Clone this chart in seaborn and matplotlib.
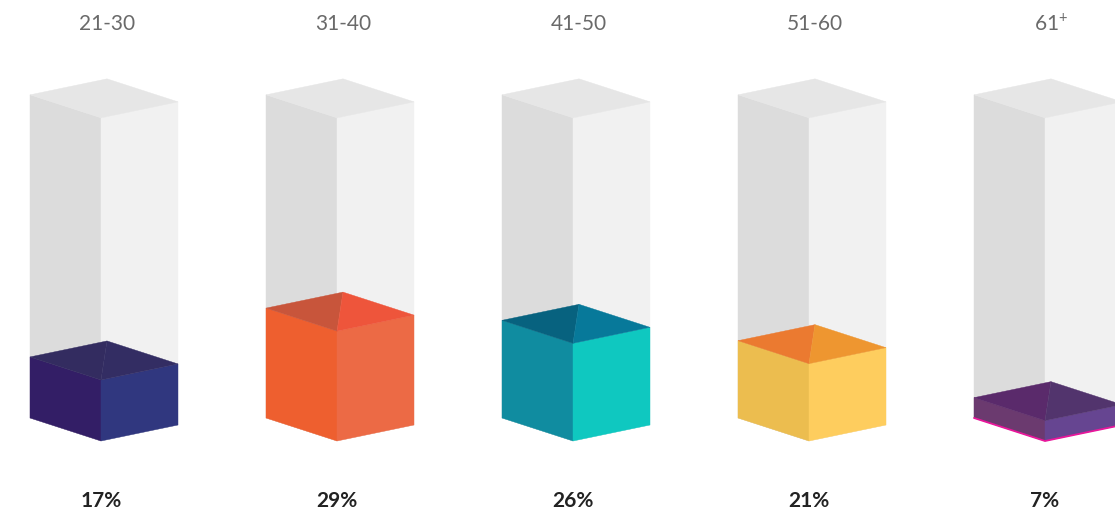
import numpy as np
import matplotlib
matplotlib.use("Agg")
import matplotlib.pyplot as plt
import seaborn as sns

# data
age_groups = ["21-30", "31-40", "41-50", "51-60", "61+"]
shares = [17, 29, 26, 21, 7]
base = 2         # value where the columns start
capacity = 81.4  # value at the top of the empty glass column

# face colours per bar: left face, right face, top-left triangle, top-right triangle
left_cols = ["#331e66", "#ee5f2f", "#108ca0", "#ecbd4f", "#6b3a6f"]
right_cols = ["#30377f", "#ec6a45", "#0fc8c0", "#fecd5e", "#664591"]
topl_cols = ["#332c60", "#c8553b", "#07627f", "#eb7a30", "#5a2a6b"]
topr_cols = ["#332d63", "#ee553b", "#07799a", "#ee9630", "#52346d"]

sns.set_theme(style="white")
plt.rcParams['font.family'] = ['Lato', 'DejaVu Sans']

fig = plt.figure(figsize=(11.15, 5.17), dpi=100)
ax = fig.add_axes([0, 0, 1, 1])

px_x = 236.0   # pixels per category
px_y = 4.07    # pixels per percent
# isometric offsets (data units)
lx, ly = -71 / px_x, 23 / px_y
rx, ry = 77 / px_x, 16 / px_y


def box(ax, x, h, c_left, c_right, c_tl, c_tr, edge=None):
    F0 = (x, base)
    F1 = (x, h)
    L0 = (x + lx, base + ly)
    L1 = (x + lx, h + ly)
    R0 = (x + rx, base + ry)
    R1 = (x + rx, h + ry)
    B1 = (x + lx + rx, h + ly + ry)
    ax.fill(*zip(L0, L1, F1, F0), color=c_left, lw=0.3, ec=c_left)
    ax.fill(*zip(F0, F1, R1, R0), color=c_right, lw=0.3, ec=c_right)
    if c_tl == c_tr:
        ax.fill(*zip(L1, B1, R1, F1), color=c_tl, lw=0.3, ec=c_tl)
    else:
        ax.fill(*zip(L1, B1, F1), color=c_tl, lw=0.3, ec=c_tl)
        ax.fill(*zip(B1, R1, F1), color=c_tr, lw=0.3, ec=c_tr)
    if edge:
        ax.plot(*zip(L0, F0, R0), color=edge, lw=1.3, solid_capstyle="round")


pal = sns.color_palette(["#dcdcdc", "#f1f1f1", "#e6e6e6"])
for i, (grp, val) in enumerate(zip(age_groups, shares)):
    # empty glass
    box(ax, i, capacity, pal[0], pal[1], pal[2], pal[2])
    # filled part
    box(ax, i, val, left_cols[i], right_cols[i], topl_cols[i], topr_cols[i],
        edge="#e8179b" if i == 4 else None)

    label = grp
    if grp.endswith("+"):
        label = grp[:-1] + r"$^{\mathregular{+}}$"
    ax.text(i + (lx + rx), base + (441 - 24) / px_y, label, ha="center", va="center",
            fontsize=15, color="#6a6a6a")
    ax.text(i, base - (501 - 441) / px_y, f"{val}%", ha="center", va="center",
            fontsize=15, fontweight="bold", color="#222222")

ax.set_xlim(-101 / px_x, (1115 - 101) / px_x)
ax.set_ylim(base - (517 - 441) / px_y, base + 441 / px_y)
ax.axis("off")

fig.savefig("out.png", dpi=100)
